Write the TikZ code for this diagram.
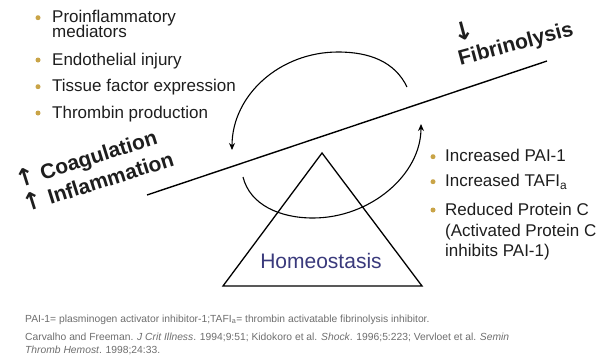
\documentclass[tikz,border=0pt]{standalone}
\usepackage{fontspec}
\setmainfont{Liberation Sans}
\newfontfamily\symfont{DejaVu Sans}
\usetikzlibrary{arrows.meta}
\definecolor{bulletgold}{HTML}{C9A447}
\definecolor{textdark}{HTML}{1E1E1E}
\definecolor{homeoblue}{HTML}{3A3A7C}
\definecolor{notegrey}{HTML}{6E6E6E}

\begin{document}
\begin{tikzpicture}[x=1pt,y=-1pt,
  item/.style={anchor=base west, inner sep=0pt, font=\fontsize{17}{17}\selectfont, text=textdark},
  dot/.style={circle, fill=bulletgold, minimum size=5pt, inner sep=0pt},
  tilted/.style={inner sep=0pt, font=\fontsize{21}{21}\selectfont\bfseries, text=textdark},
  note/.style={anchor=base west, inner sep=0pt, font=\fontsize{10.3}{11}\selectfont, text=notegrey},
  swing/.style={line width=1.1pt, -{Stealth[length=7pt,width=6pt]}}
]
\useasboundingbox (0,0) rectangle (599,356);
\fill[white] (0,0) rectangle (599,356);

% causes listed on the left
\node[dot] (d1) at (38,17.7) {};
\node[item] (t1) at (52,22.7) {Proinflammatory};
\node[item] (t1b) at (52,37.3) {mediators};
\node[dot] (d2) at (38,60) {};
\node[item] (t2) at (52,65) {Endothelial injury};
\node[dot] (d3) at (38,86.7) {};
\node[item] (t3) at (52,91.7) {Tissue factor expression};
\node[dot] (d4) at (38,113) {};
\node[item] (t4) at (52,118) {Thrombin production};

% effects on fibrinolysis on the right
\node[dot] (e1) at (433,156.7) {};
\node[item] (r1) at (445,161.7) {Increased PAI-1};
\node[dot] (e2) at (433,181.7) {};
\node[item] (r2) at (445,186.7) {Increased TAFI\textsubscript{a}};
\node[dot] (e3) at (433,210) {};
\node[item] (r3) at (445,215) {Reduced Protein C};
\node[item] (r3b) at (445,236) {(Activated Protein C};
\node[item] (r3c) at (445,256.7) {inhibits PAI-1)};

% the balance: fulcrum and tilted beam
\coordinate (apex) at (322,153);
\coordinate (bl) at (223,286);
\coordinate (br) at (422,286);
\draw[line width=1.3pt, line join=miter] (apex) -- (br) -- (bl) -- cycle;
\node[font=\fontsize{21}{21}\selectfont, text=homeoblue, anchor=base, inner sep=0pt] (homeo) at (321,268) {Homeostasis};

\coordinate (lvA) at (147,195);
\coordinate (lvB) at (547,61);
\draw[line width=1.4pt] (lvA) -- (lvB);

% rotation arrows around the pivot
\coordinate (uA) at (407,87);
\coordinate (uT) at (338,52);
\coordinate (uL) at (232,150);
\draw[swing] (uA) .. controls (395,62) and (370,52) .. (uT)
             .. controls (280,52) and (232,95) .. (uL);
\coordinate (lS) at (243,177);
\coordinate (lB) at (313,218);
\coordinate (lR) at (421,124);
\draw[swing] (lS) .. controls (250,205) and (280,218) .. (lB)
             .. controls (370,218) and (421,175) .. (lR);

% labels along the beam
\node[tilted, rotate=17.5, align=left, font=\fontsize{21}{25.5}\selectfont\bfseries] (procoag) at (94,168.5)
  {{\symfont\fontsize{24}{24}\selectfont ↑} Coagulation\\{\symfont\fontsize{24}{24}\selectfont ↑} Inflammation};
\node[tilted, rotate=15] (fib) at (516,45) {Fibrinolysis};
\node[tilted, rotate=15, font=\symfont\fontsize{25}{25}\selectfont\bfseries] (down) at (463,31) {↓};

% footnotes
\node[note] (n1) at (25,322) {PAI-1= plasminogen activator inhibitor-1;TAFI\textsubscript{a}= thrombin activatable fibrinolysis inhibitor.};
\node[note] (n2) at (25,340) {Carvalho and Freeman. \textit{J Crit Illness}. 1994;9:51; Kidokoro et al. \textit{Shock}. 1996;5:223; Vervloet et al. \textit{Semin}};
\node[note] (n3) at (25,353) {\textit{Thromb Hemost}. 1998;24:33.};
\end{tikzpicture}
\end{document}
